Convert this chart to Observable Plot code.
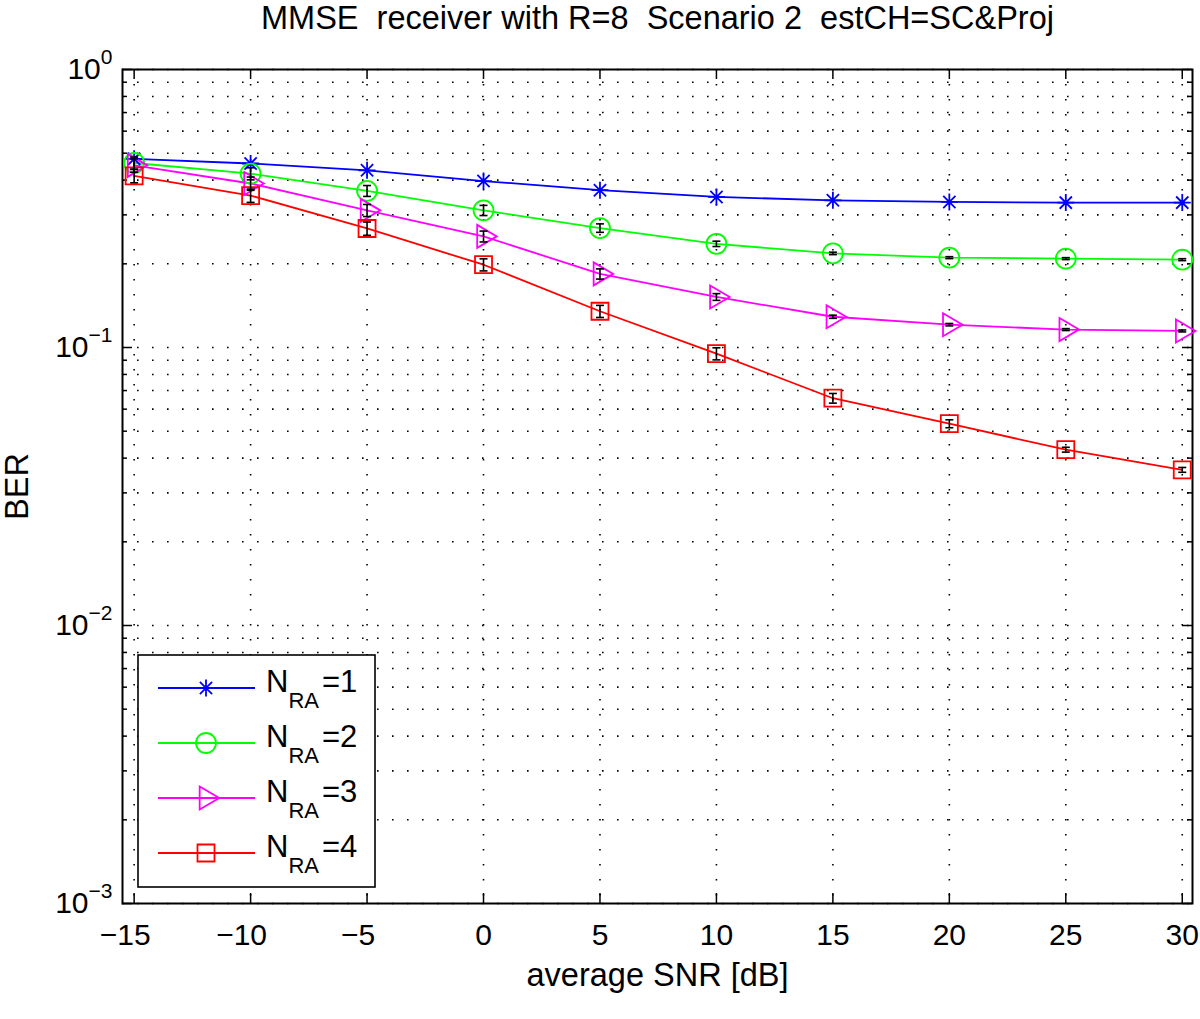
<!DOCTYPE html>
<html>
<head>
<meta charset="utf-8">
<script src="https://cdn.jsdelivr.net/npm/d3@7"></script>
<script src="https://cdn.jsdelivr.net/npm/@observablehq/plot@0.6"></script>
<style>
  body { margin: 0; background: #fff; }
  svg { display: block; }
  svg text { white-space: pre; }
</style>
</head>
<body>
<div id="chart"></div>
<script>
// ---------- data ----------
const snr = [-15, -10, -5, 0, 5, 10, 15, 20, 25, 30];
const berNRA1 = [0.477, 0.459, 0.434, 0.397, 0.368, 0.348, 0.3385, 0.334, 0.332, 0.332];
const berNRA2 = [0.461, 0.422, 0.366, 0.3114, 0.269, 0.236, 0.218, 0.2105, 0.2088, 0.207];
const berNRA3 = [0.452, 0.389, 0.3114, 0.251, 0.184, 0.152, 0.129, 0.1208, 0.116, 0.1147];
const berNRA4 = [0.414, 0.352, 0.268, 0.1985, 0.135, 0.095, 0.0657, 0.0532, 0.0429, 0.0363];
// relative half-width of the confidence (error) bars
const errNRA1 = [0, 0, 0, 0, 0, 0, 0, 0, 0, 0];
const errNRA2 = [0.05, 0.05, 0.045, 0.042, 0.035, 0.022, 0.01, 0.008, 0.008, 0.008];
const errNRA3 = [0.055, 0.055, 0.05, 0.045, 0.042, 0.028, 0.013, 0.01, 0.008, 0.008];
const errNRA4 = [0.055, 0.055, 0.055, 0.05, 0.05, 0.05, 0.04, 0.033, 0.02, 0.02];
const seriesNames = ["NRA=1", "NRA=2", "NRA=3", "NRA=4"];
const seriesSub = ["1", "2", "3", "4"];
const seriesColors = ["#0000ff", "#00ff00", "#ff00ff", "#ff0000"];
const xTicks = [-15, -10, -5, 0, 5, 10, 15, 20, 25, 30];
const yTicks = [1e-3, 1e-2, 1e-1, 1];
const yMinor = [2,3,4,5,6,7,8,9].flatMap(m => [1e-3, 1e-2, 1e-1].map(d => m * d));
const titleText = "MMSE  receiver with R=8  Scenario 2  estCH=SC&Proj";
const xLabel = "average SNR [dB]";
const yLabel = "BER";

// ---------- symbols (MATLAB-like markers) ----------
const rad = s => Math.sqrt(s / Math.PI);
const symAsterisk = {draw(c, s) { const r = rad(s), d = r * 0.72;
  c.moveTo(-r, 0); c.lineTo(r, 0); c.moveTo(0, -r); c.lineTo(0, r);
  c.moveTo(-d, -d); c.lineTo(d, d); c.moveTo(-d, d); c.lineTo(d, -d); }};
const symCircle = {draw(c, s) { const r = rad(s); c.moveTo(r, 0); c.arc(0, 0, r, 0, 2 * Math.PI); c.closePath(); }};
const symTriRight = {draw(c, s) { const r = rad(s);
  c.moveTo(-0.55 * r, -r); c.lineTo(1.15 * r, 0); c.lineTo(-0.55 * r, r); c.closePath(); }};
const symSquare = {draw(c, s) { const r = rad(s); c.rect(-r, -r, 2 * r, 2 * r); }};
const symCap = {draw(c, s) { const r = rad(s); c.moveTo(-r, 0); c.lineTo(r, 0); }};
const seriesSymbols = [symAsterisk, symCircle, symTriRight, symSquare];
const seriesR = [8.5, 10, 11.5, 8.5];

const bers = [berNRA1, berNRA2, berNRA3, berNRA4];
const errs = [errNRA1, errNRA2, errNRA3, errNRA4];
const rows = bers.flatMap((b, i) => snr.map((x, j) => ({
  snr: x, ber: b[j], series: seriesNames[i], idx: i,
  lo: b[j] * (1 - errs[i][j]), hi: b[j] * (1 + errs[i][j]), err: errs[i][j]
})));
const errRows = rows.filter(d => d.err > 0);

const W = 1200, H = 1019, mL = 122, mR = 8, mT = 69, mB = 116;
const frameW = W - mL - mR, frameH = H - mT - mB;
const grid = {stroke: "black", strokeOpacity: 1, strokeWidth: 1.6, strokeDasharray: "1.6,13.4"};
const tickStyle = {stroke: "black", strokeWidth: 1.5};

const marks = [
  Plot.gridX(xTicks, grid),
  Plot.gridY([...yMinor, ...yTicks], grid),
  // inward ticks like MATLAB
  Plot.tickX(xTicks, {x: d => d, insetTop: frameH - 10, ...tickStyle}),
  Plot.tickX(xTicks, {x: d => d, insetBottom: frameH - 10, ...tickStyle}),
  Plot.tickY(yTicks, {y: d => d, insetRight: frameW - 10, ...tickStyle}),
  Plot.tickY(yTicks, {y: d => d, insetLeft: frameW - 10, ...tickStyle}),
  Plot.tickY(yMinor, {y: d => d, insetRight: frameW - 5, ...tickStyle}),
  Plot.tickY(yMinor, {y: d => d, insetLeft: frameW - 5, ...tickStyle}),
  Plot.frame({stroke: "black", strokeWidth: 2}),
  Plot.axisX(xTicks, {tickSize: 0, tickPadding: 20, fontSize: 30, label: null,
    tickFormat: d => d < 0 ? "\u2212" + Math.abs(d) : String(d)}),
  Plot.axisY(yTicks, {tickSize: 0, tickPadding: 10, fontSize: 30, label: null,
    tickFormat: d => "10^" + Math.round(Math.log10(d))}),
  Plot.line(rows, {x: "snr", y: "ber", z: "series", stroke: "series", strokeWidth: 1.8}),
  ...seriesNames.map((n, i) => Plot.dot(rows.filter(d => d.idx === i), {
    x: "snr", y: "ber", symbol: seriesSymbols[i], r: seriesR[i],
    stroke: seriesColors[i], strokeWidth: 1.8, fill: "none"
  })),
  Plot.ruleX(errRows, {x: "snr", y1: "lo", y2: "hi", stroke: "black", strokeWidth: 1.6}),
  Plot.dot(errRows, {x: "snr", y: "lo", symbol: symCap, r: 4, stroke: "black", strokeWidth: 1.6}),
  Plot.dot(errRows, {x: "snr", y: "hi", symbol: symCap, r: 4, stroke: "black", strokeWidth: 1.6}),
  Plot.text([titleText], {frameAnchor: "top", dy: -51, fontSize: 32.5, lineAnchor: "middle", textAnchor: "middle", fill: "black"}),
  Plot.text([xLabel], {frameAnchor: "bottom", dy: 72, fontSize: 32.5, lineAnchor: "middle", textAnchor: "middle", fill: "black"}),
  Plot.text([yLabel], {frameAnchor: "left", dx: -105, rotate: -90, fontSize: 32.5, lineAnchor: "middle", textAnchor: "middle", fill: "black"})
];

const chart = Plot.plot({
  width: W, height: H,
  marginLeft: mL, marginRight: mR, marginTop: mT, marginBottom: mB,
  style: {fontFamily: "'Liberation Sans', Arial, Helvetica, sans-serif", background: "white", color: "black", overflow: "visible"},
  x: {domain: [-15.5, 30.44]},
  y: {type: "log", domain: [1e-3, 1]},
  color: {domain: seriesNames, range: seriesColors},
  marks
});
document.getElementById("chart").appendChild(chart);

const svg = d3.select(chart);
// superscript exponents on the y tick labels
svg.selectAll('g[aria-label="y-axis tick label"] text').each(function() {
  const t = d3.select(this);
  const s = this.textContent;
  const e = Number(s.split("^")[1]);
  t.text("10");
  t.append("tspan").attr("dy", -15).attr("font-size", 21)
    .text(e < 0 ? "\u2212" + Math.abs(e) : String(e));
});
// MATLAB places negative x labels slightly left of their tick
svg.selectAll('g[aria-label="x-axis tick label"] text').each(function() {
  if (this.textContent.startsWith("\u2212")) d3.select(this).attr("dx", -9);
});

// legend (MATLAB style box)
const lg = svg.append("g").attr("font-size", 30).attr("fill", "black").attr("text-anchor", "start");
lg.append("rect").attr("x", 138).attr("y", 655).attr("width", 237).attr("height", 232)
  .attr("fill", "white").attr("stroke", "black").attr("stroke-width", 1.6);
seriesNames.forEach((n, i) => {
  const cy = 688 + i * 55;
  lg.append("line").attr("x1", 158).attr("x2", 255).attr("y1", cy).attr("y2", cy)
    .attr("stroke", seriesColors[i]).attr("stroke-width", 1.8);
  lg.append("path").attr("transform", `translate(206,${cy})`)
    .attr("d", d3.symbol(seriesSymbols[i], seriesR[i] * seriesR[i] * Math.PI)())
    .attr("fill", "none").attr("stroke", seriesColors[i]).attr("stroke-width", 1.8);
  const tx = lg.append("text").attr("x", 266).attr("y", cy + 4).attr("text-anchor", "start").attr("font-size", 31);
  tx.append("tspan").text("N");
  tx.append("tspan").attr("dy", 16).attr("font-size", 22).text("RA");
  tx.append("tspan").attr("dy", -16).attr("dx", 3).text("=" + seriesSub[i]);
});
</script>
</body>
</html>
